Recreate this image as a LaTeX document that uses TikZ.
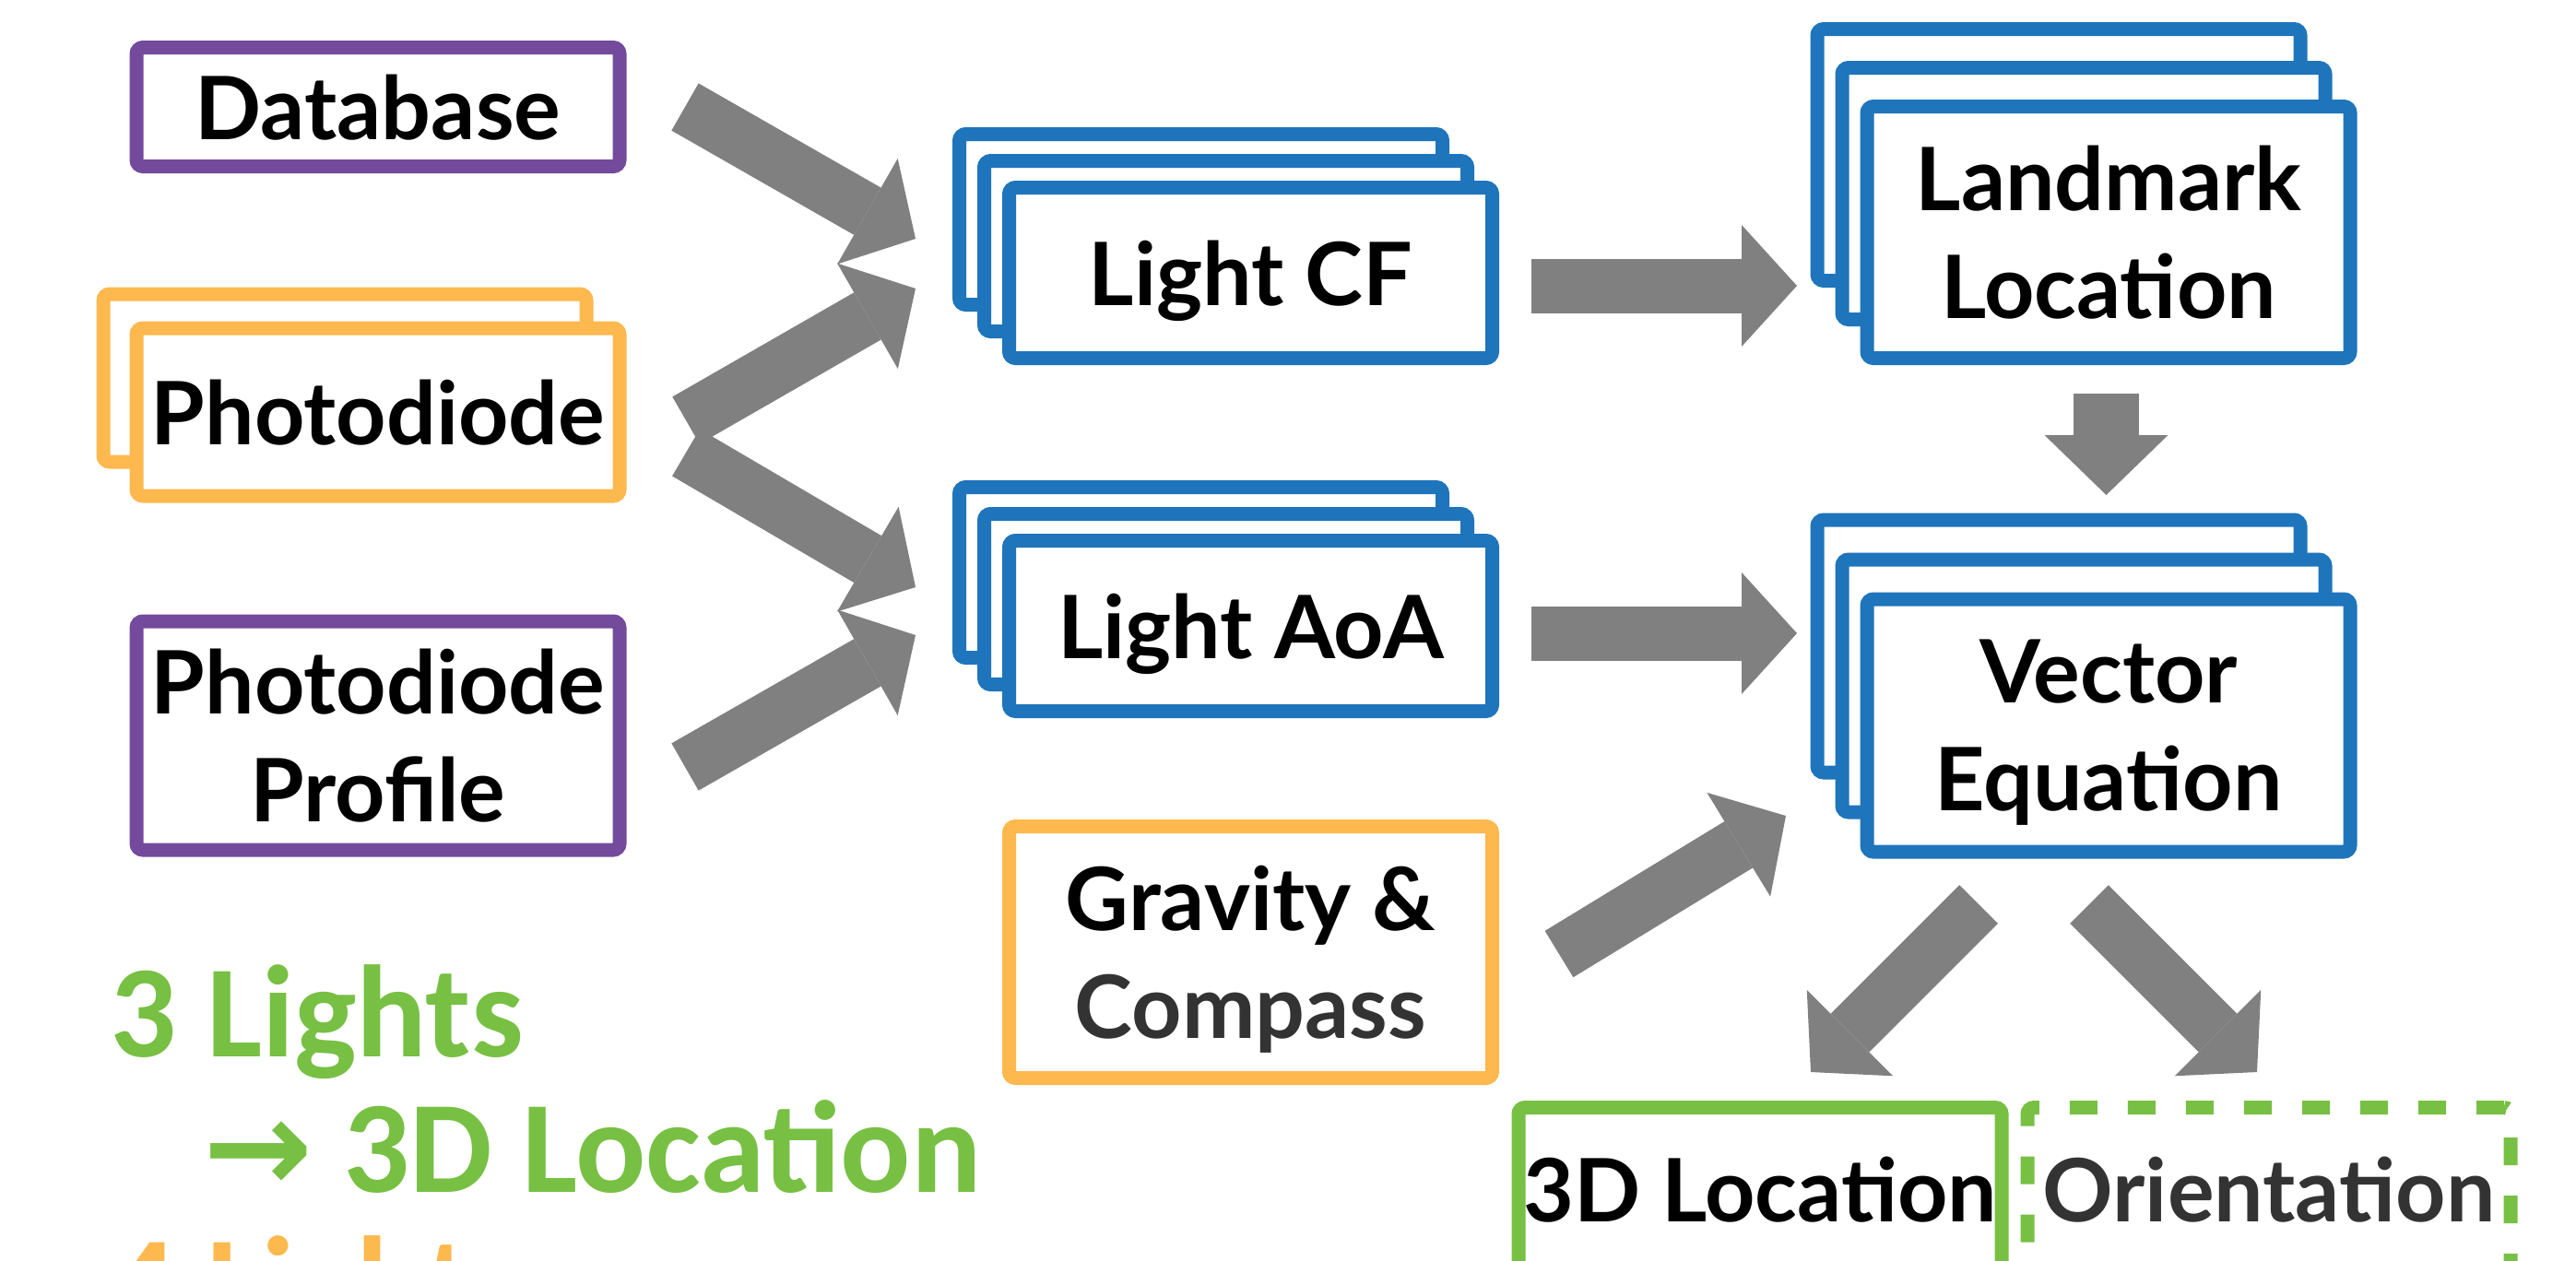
\documentclass[tikz,border=0pt]{standalone}
\usepackage{fontspec}
\setmainfont{Lato}
\newfontfamily\legendfont{Carlito}
\newfontfamily\symbolfont{DejaVu Sans}
\usetikzlibrary{arrows.meta, positioning, calc}

\definecolor{flowpurple}{HTML}{744A9C}
\definecolor{floworange}{HTML}{FDB84E}
\definecolor{flowblue}{HTML}{1E75BB}
\definecolor{flowgreen}{HTML}{77C043}
\definecolor{flowgray}{HTML}{808080}
\definecolor{textgray}{HTML}{333333}

\begin{document}
\begin{tikzpicture}[
    box/.style={draw, fill=white, line width=0.15cm, rounded corners=2pt,
                inner sep=0pt, minimum width=5.24cm, align=center,
                font=\bfseries\fontsize{27}{33.3}\selectfont, text depth=0pt},
    source/.style={box, draw=flowpurple},
    sensor/.style={box, draw=floworange},
    stage/.style={box, draw=flowblue},
    result/.style={box, draw=flowgreen},
    fatarrow/.style={draw=flowgray, line width=0.59cm,
                     -{Triangle[length=0.6cm, width=1.32cm, line width=0pt]}},
    legend/.style={anchor=base west, inner sep=0pt,
                   font=\legendfont\bfseries\fontsize{40.5}{40.5}\selectfont}
  ]
  \useasboundingbox (0,0) rectangle (27.94,-13.67);
  % Inputs (left column)
  \node[source, minimum height=1.29cm] (db)  at (4.10, -1.16) {Database};
  \node[sensor, minimum height=1.82cm] (pd2) at (3.74, -4.10) {};
  \node[sensor, minimum height=1.82cm] (pd)  at (4.10, -4.47) {Photodiode};
  \node[source, minimum height=2.48cm] (pp)  at (4.10, -7.98) {Photodiode\\Profile};
  % Light CF stack
  \node[stage, minimum height=1.85cm] (cf3) at (13.025, -2.38) {};
  \node[stage, minimum height=1.85cm] (cf2) at (13.295, -2.67) {};
  \node[stage, minimum height=1.85cm] (cf)  at (13.565, -2.96) {Light CF};
  % Light AoA stack
  \node[stage, minimum height=1.85cm] (aoa3) at (13.025, -6.21) {};
  \node[stage, minimum height=1.85cm] (aoa2) at (13.295, -6.50) {};
  \node[stage, minimum height=1.85cm] (aoa)  at (13.565, -6.79) {Light AoA};
  % Gravity & Compass
  \node[sensor, minimum height=2.73cm] (gc) at (13.565, -10.33)
    {Gravity \&\\\textcolor{textgray}{Compass}};
  % Landmark Location stack
  \node[stage, minimum height=2.73cm] (lm3) at (22.33, -1.68) {};
  \node[stage, minimum height=2.73cm] (lm2) at (22.60, -2.10) {};
  \node[stage, minimum height=2.73cm] (lm)  at (22.87, -2.52) {Landmark\\Location};
  % Vector Equation stack
  \node[stage, minimum height=2.74cm] (ve3) at (22.33, -7.01) {};
  \node[stage, minimum height=2.74cm] (ve2) at (22.60, -7.44) {};
  \node[stage, minimum height=2.74cm] (ve)  at (22.87, -7.87) {Vector\\Equation};
  % Outputs
  \node[result, minimum height=1.77cm] (loc) at (19.09, -12.90) {3D Location};
  \node[result, dash pattern=on 0.30cm off 0.33cm, minimum height=1.77cm] (ori)
    at (24.61, -12.90) {\textcolor{textgray}{Orientation}};
  % Arrow end points
  \coordinate (dbtail)  at (7.43, -1.16);
  \coordinate (cfin1)   at (9.93, -2.59);
  \coordinate (pdtail1) at (7.44, -4.56);
  \coordinate (cfin2)   at (9.93, -3.13);
  \coordinate (pdtail2) at (7.44, -4.91);
  \coordinate (aoain1)  at (9.93, -6.37);
  \coordinate (pptail)  at (7.43, -8.32);
  \coordinate (aoain2)  at (9.93, -6.89);
  \coordinate (cfout)   at (16.61, -3.10);
  \coordinate (lmin)    at (19.49, -3.10);
  \coordinate (aoaout)  at (16.61, -6.87);
  \coordinate (vein1)   at (19.49, -6.87);
  \coordinate (gcout)   at (16.91, -10.35);
  \coordinate (vein2)   at (19.37, -8.85);
  \coordinate (lmout)   at (22.845, -4.27);
  \coordinate (vetop)   at (22.845, -5.37);
  \coordinate (veout1)  at (21.46, -9.81);
  \coordinate (locin)   at (19.64, -11.63);
  \coordinate (veout2)  at (22.66, -9.81);
  \coordinate (oriin)   at (24.48, -11.63);
  % Arrows
  \draw[fatarrow] (dbtail)  -- (cfin1);
  \draw[fatarrow] (pdtail1) -- (cfin2);
  \draw[fatarrow] (pdtail2) -- (aoain1);
  \draw[fatarrow] (pptail)  -- (aoain2);
  \draw[fatarrow] (cfout)   -- (lmin);
  \draw[fatarrow] (aoaout)  -- (vein1);
  \draw[fatarrow] (gcout)   -- (vein2);
  \draw[fatarrow, line width=0.71cm,
        -{Triangle[length=0.65cm, width=1.34cm, line width=0pt]}] (lmout) -- (vetop);
  \draw[fatarrow] (veout1)  -- (locin);
  \draw[fatarrow] (veout2)  -- (oriin);
  % Legend
  \node[legend, text=flowgreen]  (lg3)    at (1.19, -11.46) {3 Lights};
  \node[legend, text=flowgreen]  (lg3loc) at (2.20, -12.93) {{\symbolfont →} 3D Location};
  \node[legend, text=floworange] (lg4)    at (1.19, -14.40) {4 Lights};
\end{tikzpicture}
\end{document}
